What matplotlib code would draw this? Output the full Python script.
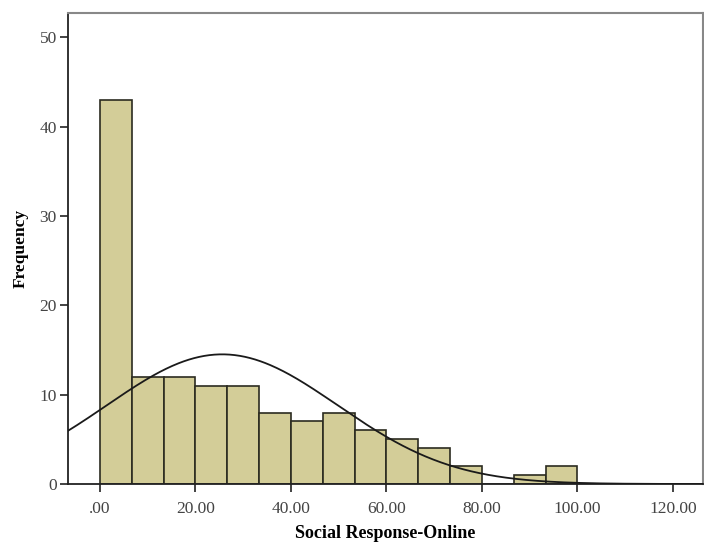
import numpy as np
import matplotlib
matplotlib.use("Agg")
import matplotlib.pyplot as plt

bin_edges = np.linspace(0, 100, 16)
counts = [43, 12, 12, 11, 11, 8, 7, 8, 6, 5, 4, 2, 0, 1, 2]
mean_val = 25.6
sd_val = 24.2
n_total = sum(counts)
x_ticks = [0, 20, 40, 60, 80, 100, 120]
x_ticklabels = [".00", "20.00", "40.00", "60.00", "80.00", "100.00", "120.00"]
y_ticks = [0, 10, 20, 30, 40, 50]

plt.rcParams['font.family'] = ['Liberation Serif', 'DejaVu Serif']

fig = plt.figure(figsize=(7.04, 5.46), dpi=100)
ax = fig.add_axes([68/704, 62/546, 635/704, 471/546])

widths = np.diff(bin_edges)
ax.bar(bin_edges[:-1], counts, width=widths, align='edge',
       color='#d3cd98', edgecolor='#2b2b20', linewidth=1.2, zorder=2)

xmin, xmax = -6.7, 126.3
xs = np.linspace(xmin, xmax, 500)
bw = widths[0]
ys = n_total * bw / (sd_val * np.sqrt(2 * np.pi)) * np.exp(-0.5 * ((xs - mean_val) / sd_val) ** 2)
ax.plot(xs, ys, color='#1a1a1a', linewidth=1.3, zorder=3)

ax.set_xlim(xmin, xmax)
ax.set_ylim(0, 52.7)
ax.set_xticks(x_ticks)
ax.set_xticklabels(x_ticklabels)
ax.set_yticks(y_ticks)
ax.tick_params(axis='both', direction='out', length=6, width=1.2, labelsize=12.5,
               colors='#222222', labelcolor='#444444')
ax.tick_params(axis='x', pad=6)
ax.tick_params(axis='y', pad=2)

for s in ['left', 'bottom']:
    ax.spines[s].set_color('#222222')
    ax.spines[s].set_linewidth(1.3)
for s in ['top', 'right']:
    ax.spines[s].set_color('#888888')
    ax.spines[s].set_linewidth(1.5)

ax.set_xlabel('Social Response-Online', fontsize=13, fontweight='bold', labelpad=6)
ax.set_ylabel('Frequency', fontsize=12.5, fontweight='bold', labelpad=8)

fig.savefig('out.png', dpi=100, facecolor='white')
